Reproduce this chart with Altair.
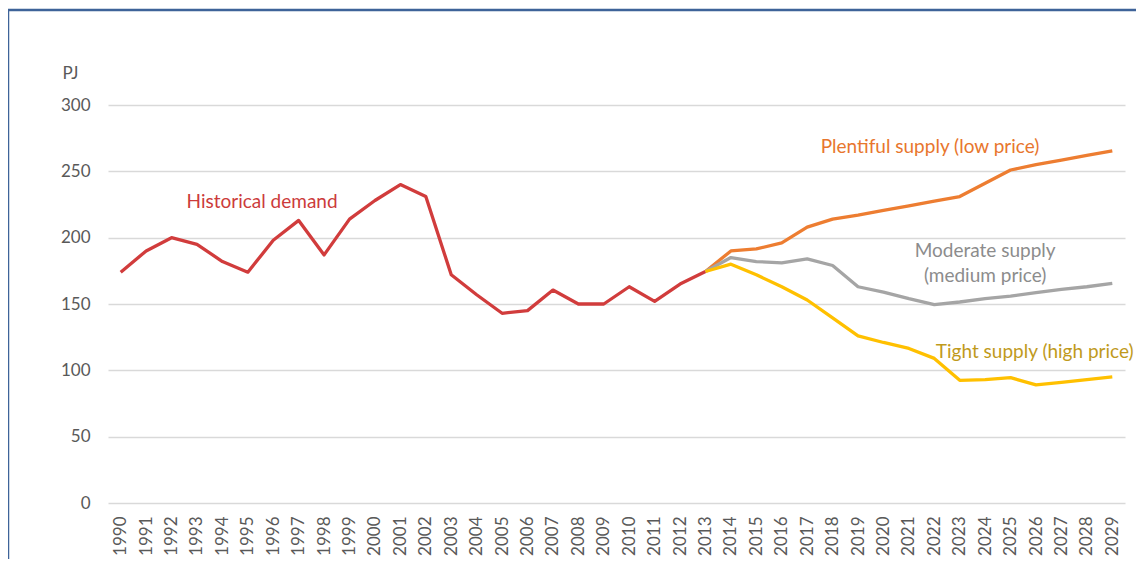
import altair as alt
import pandas as pd

# ---- data ----
hist_years = list(range(1990, 2014))
historical = [174, 190, 200, 195, 182, 174, 198, 213, 187, 214, 228, 240,
              231, 172, 157, 143, 145, 160.5, 150, 150, 163, 152, 165, 174.5]

fc_years = list(range(2013, 2030))
plentiful = [174.5, 190, 191.5, 196, 208, 214, 217, 220.5, 224, 227.5, 231,
             241, 251, 255, 258.5, 262, 265.5]
moderate = [174.5, 185, 182, 181, 184, 179, 163, 159, 154, 149.5, 151.5,
            154, 156, 158.5, 161, 163, 165.5]
tight = [174.5, 180, 172, 163, 153, 139.5, 126, 121, 116.5, 109, 92.5,
         93, 94.5, 89, 91, 93, 95]

series_names = ["Historical demand", "Plentiful supply", "Moderate supply", "Tight supply"]
series_colors = ["#d13c3c", "#ed7d31", "#a5a5a5", "#ffc000"]

all_years = list(range(1990, 2030))
y_ticks = [0, 50, 100, 150, 200, 250, 300]

# annotation labels (text, year position, value position, colour)
label_text = ["Historical demand", "Plentiful supply (low price)", "Moderate supply",
              "(medium price)", "Tight supply (high price)"]
label_year = [1995.56, 2021.83, 2024.0, 2024.0, 2025.95]
label_value = [226.9, 268.3, 190.0, 171.1, 113.8]
label_color = ["#cc3b3b", "#e8762d", "#8c8c8c", "#8c8c8c", "#bf9a1c"]

# ---- tables ----
rows = []
for y, v in zip(hist_years, historical):
    rows.append({"series": series_names[0], "year": y, "value": v})
for name, vals in zip(series_names[1:], [plentiful, moderate, tight]):
    for y, v in zip(fc_years, vals):
        rows.append({"series": name, "year": y, "value": v})
lines_df = pd.DataFrame(rows)

labels_df = pd.DataFrame({"text": label_text, "year": label_year,
                          "value": label_value, "color": label_color})

FONT = "Lato"

x_scale = alt.Scale(domain=[1989.5, 2029.5], nice=False, zero=False)
y_scale = alt.Scale(domain=[0, 300], nice=False)

x_axis = alt.Axis(values=all_years, format="d", labelAngle=-90, labelAlign="right",
                  labelBaseline="middle", labelPadding=13, grid=False, ticks=False,
                  domain=False, labelFontSize=17, labelColor="#595959",
                  labelOverlap=False, labelFlush=False, labelFont=FONT, title=None)
y_axis = alt.Axis(values=y_ticks, grid=True, gridColor="#d9d9d9", gridWidth=1.3,
                  domain=False, ticks=False, labelPadding=18, labelFontSize=17,
                  labelColor="#595959", labelFont=FONT,
                  title="PJ", titleAngle=0, titleX=-38, titleY=-32,
                  titleFontSize=17, titleFontWeight="normal", titleColor="#595959",
                  titleAlign="center", titleBaseline="middle", titleFont=FONT)

lines = alt.Chart(lines_df).mark_line(strokeWidth=3.3, strokeJoin="round").encode(
    x=alt.X("year:Q", scale=x_scale, axis=x_axis),
    y=alt.Y("value:Q", scale=y_scale, axis=y_axis),
    color=alt.Color("series:N", scale=alt.Scale(domain=series_names, range=series_colors),
                    legend=None),
    detail="series:N",
)

texts = alt.Chart(labels_df).mark_text(font=FONT, fontSize=19, align="center",
                                       baseline="middle").encode(
    x=alt.X("year:Q", scale=x_scale, axis=x_axis),
    y=alt.Y("value:Q", scale=y_scale, axis=y_axis),
    text="text:N",
    color=alt.Color("color:N", scale=None),
)

border = alt.Chart(pd.DataFrame({"k": [0]})).mark_rect(
    filled=False, stroke="#3e6399", strokeWidth=2.5
).encode(
    x=alt.value(-100), x2=alt.value(1100), y=alt.value(-95), y2=alt.value(480)
)

chart = alt.layer(border, lines, texts).properties(
    width=1017, height=398,
    autosize=alt.AutoSizeParams(type="none"),
    padding={"left": 100, "top": 97, "right": 11, "bottom": 56},
    background="white",
).configure_view(strokeWidth=0).configure_axis(labelOverlap=False)

chart.save("out.html", embed_options={"renderer": "svg", "actions": False})
